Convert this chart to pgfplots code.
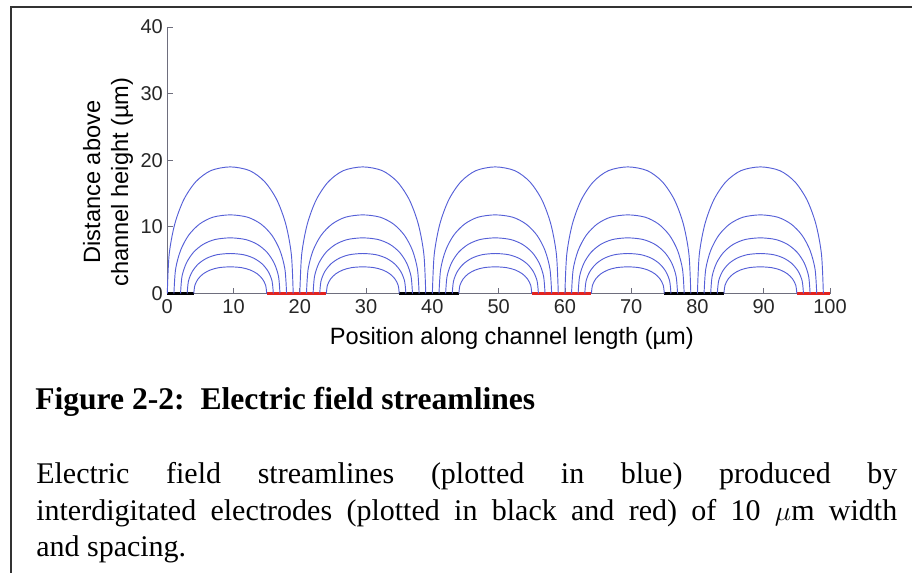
\documentclass[border=0pt]{standalone}
\usepackage{pgfplots}
\pgfplotsset{compat=1.18}
\usepackage{fontspec}
\setmainfont{Liberation Serif}
\newfontfamily\arial{Liberation Sans}

\definecolor{streamblue}{RGB}{85,95,215}
\definecolor{elecred}{RGB}{228,35,30}
\definecolor{axisgray}{RGB}{110,110,125}

\pgfplotsset{
  stream/.style={streamblue, line width=0.7pt, smooth, no marks},
  electrode/.style={line width=2.5pt, no marks},
}

\begin{document}
\begin{tikzpicture}
\begin{scope}[x=0.75pt,y=-0.75pt]
  \path[use as bounding box] (0,0) rectangle (912,573);
  % page frame (left and top rules)
  \draw[line width=1.5pt, black!80] (10.7,573) -- (10.7,7.3) -- (912,7.3);
\end{scope}

\begin{axis}[
  at={(125.475pt,-220.125pt)}, anchor=south west,
  scale only axis, width=497pt, height=199.9pt,
  xmin=0, xmax=100, ymin=0, ymax=40,
  axis lines*=left,
  axis line style={axisgray, line width=0.6pt},
  tick align=inside,
  major tick length=4.5pt,
  tick style={axisgray, line width=0.6pt},
  xtick={0,10,...,100}, ytick={0,10,...,40},
  /pgf/number format/assume math mode=true,
  tick label style={font=\arial\fontsize{15}{17}\selectfont, black!85},
  xticklabel style={inner sep=0pt, anchor=north, yshift=-4.6pt},
  yticklabel style={inner sep=0pt, anchor=east, xshift=-3.2pt},
  xlabel={Position along channel length (µm)},
  xlabel style={at={(axis description cs:0.52,-0.193)}, anchor=base,
    font=\arial\fontsize{17.7}{21}\selectfont},
  ylabel={Distance above\\channel height (µm)},
  ylabel style={at={(axis description cs:-0.0895,0.418)}, anchor=center,
    align=center, font=\arial\fontsize{17.7}{21}\selectfont},
  clip=false,
]
% electrodes along the channel floor
\addplot[electrode, black]   coordinates {(0,0) (4,0)};
\addplot[electrode, elecred] coordinates {(15,0) (24,0)};
\addplot[electrode, black]   coordinates {(35,0) (44,0)};
\addplot[electrode, elecred] coordinates {(55,0) (64,0)};
\addplot[electrode, black]   coordinates {(75,0) (84,0)};
\addplot[electrode, elecred] coordinates {(95,0) (100,0)};

% streamlines, gap 1
\addplot[stream] coordinates {(0,0) (0.28,5.86) (1.12,10.40) (2.47,14.05) (4.30,16.77) (6.57,18.44) (9.50,19.00) (12.43,18.44) (14.70,16.77) (16.53,14.05) (17.88,10.40) (18.72,5.86) (19,0)};
\addplot[stream] coordinates {(1,0) (1.25,3.64) (2.00,6.46) (3.21,8.73) (4.85,10.41) (6.88,11.45) (9.50,11.80) (12.12,11.45) (14.15,10.41) (15.79,8.73) (17.00,6.46) (17.75,3.64) (18,0)};
\addplot[stream] coordinates {(2,0) (2.22,2.58) (2.88,4.57) (3.95,6.18) (5.40,7.37) (7.19,8.10) (9.50,8.35) (11.81,8.10) (13.60,7.37) (15.05,6.18) (16.12,4.57) (16.78,2.58) (17,0)};
\addplot[stream] coordinates {(3,0) (3.19,1.85) (3.76,3.28) (4.69,4.44) (5.94,5.29) (7.50,5.82) (9.50,6.00) (11.50,5.82) (13.06,5.29) (14.31,4.44) (15.24,3.28) (15.81,1.85) (16,0)};
\addplot[stream] coordinates {(4,0) (4.16,1.23) (4.65,2.19) (5.43,2.96) (6.49,3.53) (7.80,3.88) (9.50,4.00) (11.20,3.88) (12.51,3.53) (13.57,2.96) (14.35,2.19) (14.84,1.23) (15,0)};

% streamlines, gap 2
\addplot[stream] coordinates {(20,0) (20.28,5.86) (21.12,10.40) (22.47,14.05) (24.30,16.77) (26.57,18.44) (29.50,19.00) (32.43,18.44) (34.70,16.77) (36.53,14.05) (37.88,10.40) (38.72,5.86) (39,0)};
\addplot[stream] coordinates {(21,0) (21.25,3.64) (22.00,6.46) (23.21,8.73) (24.85,10.41) (26.88,11.45) (29.50,11.80) (32.12,11.45) (34.15,10.41) (35.79,8.73) (37.00,6.46) (37.75,3.64) (38,0)};
\addplot[stream] coordinates {(22,0) (22.22,2.58) (22.88,4.57) (23.95,6.18) (25.40,7.37) (27.19,8.10) (29.50,8.35) (31.81,8.10) (33.60,7.37) (35.05,6.18) (36.12,4.57) (36.78,2.58) (37,0)};
\addplot[stream] coordinates {(23,0) (23.19,1.85) (23.76,3.28) (24.69,4.44) (25.94,5.29) (27.50,5.82) (29.50,6.00) (31.50,5.82) (33.06,5.29) (34.31,4.44) (35.24,3.28) (35.81,1.85) (36,0)};
\addplot[stream] coordinates {(24,0) (24.16,1.23) (24.65,2.19) (25.43,2.96) (26.49,3.53) (27.80,3.88) (29.50,4.00) (31.20,3.88) (32.51,3.53) (33.57,2.96) (34.35,2.19) (34.84,1.23) (35,0)};

% streamlines, gap 3
\addplot[stream] coordinates {(40,0) (40.28,5.86) (41.12,10.40) (42.47,14.05) (44.30,16.77) (46.57,18.44) (49.50,19.00) (52.43,18.44) (54.70,16.77) (56.53,14.05) (57.88,10.40) (58.72,5.86) (59,0)};
\addplot[stream] coordinates {(41,0) (41.25,3.64) (42.00,6.46) (43.21,8.73) (44.85,10.41) (46.88,11.45) (49.50,11.80) (52.12,11.45) (54.15,10.41) (55.79,8.73) (57.00,6.46) (57.75,3.64) (58,0)};
\addplot[stream] coordinates {(42,0) (42.22,2.58) (42.88,4.57) (43.95,6.18) (45.40,7.37) (47.19,8.10) (49.50,8.35) (51.81,8.10) (53.60,7.37) (55.05,6.18) (56.12,4.57) (56.78,2.58) (57,0)};
\addplot[stream] coordinates {(43,0) (43.19,1.85) (43.76,3.28) (44.69,4.44) (45.94,5.29) (47.50,5.82) (49.50,6.00) (51.50,5.82) (53.06,5.29) (54.31,4.44) (55.24,3.28) (55.81,1.85) (56,0)};
\addplot[stream] coordinates {(44,0) (44.16,1.23) (44.65,2.19) (45.43,2.96) (46.49,3.53) (47.80,3.88) (49.50,4.00) (51.20,3.88) (52.51,3.53) (53.57,2.96) (54.35,2.19) (54.84,1.23) (55,0)};

% streamlines, gap 4
\addplot[stream] coordinates {(60,0) (60.28,5.86) (61.12,10.40) (62.47,14.05) (64.30,16.77) (66.57,18.44) (69.50,19.00) (72.43,18.44) (74.70,16.77) (76.53,14.05) (77.88,10.40) (78.72,5.86) (79,0)};
\addplot[stream] coordinates {(61,0) (61.25,3.64) (62.00,6.46) (63.21,8.73) (64.85,10.41) (66.88,11.45) (69.50,11.80) (72.12,11.45) (74.15,10.41) (75.79,8.73) (77.00,6.46) (77.75,3.64) (78,0)};
\addplot[stream] coordinates {(62,0) (62.22,2.58) (62.88,4.57) (63.95,6.18) (65.40,7.37) (67.19,8.10) (69.50,8.35) (71.81,8.10) (73.60,7.37) (75.05,6.18) (76.12,4.57) (76.78,2.58) (77,0)};
\addplot[stream] coordinates {(63,0) (63.19,1.85) (63.76,3.28) (64.69,4.44) (65.94,5.29) (67.50,5.82) (69.50,6.00) (71.50,5.82) (73.06,5.29) (74.31,4.44) (75.24,3.28) (75.81,1.85) (76,0)};
\addplot[stream] coordinates {(64,0) (64.16,1.23) (64.65,2.19) (65.43,2.96) (66.49,3.53) (67.80,3.88) (69.50,4.00) (71.20,3.88) (72.51,3.53) (73.57,2.96) (74.35,2.19) (74.84,1.23) (75,0)};

% streamlines, gap 5
\addplot[stream] coordinates {(80,0) (80.28,5.86) (81.12,10.40) (82.47,14.05) (84.30,16.77) (86.57,18.44) (89.50,19.00) (92.43,18.44) (94.70,16.77) (96.53,14.05) (97.88,10.40) (98.72,5.86) (99,0)};
\addplot[stream] coordinates {(81,0) (81.25,3.64) (82.00,6.46) (83.21,8.73) (84.85,10.41) (86.88,11.45) (89.50,11.80) (92.12,11.45) (94.15,10.41) (95.79,8.73) (97.00,6.46) (97.75,3.64) (98,0)};
\addplot[stream] coordinates {(82,0) (82.22,2.58) (82.88,4.57) (83.95,6.18) (85.40,7.37) (87.19,8.10) (89.50,8.35) (91.81,8.10) (93.60,7.37) (95.05,6.18) (96.12,4.57) (96.78,2.58) (97,0)};
\addplot[stream] coordinates {(83,0) (83.19,1.85) (83.76,3.28) (84.69,4.44) (85.94,5.29) (87.50,5.82) (89.50,6.00) (91.50,5.82) (93.06,5.29) (94.31,4.44) (95.24,3.28) (95.81,1.85) (96,0)};
\addplot[stream] coordinates {(84,0) (84.16,1.23) (84.65,2.19) (85.43,2.96) (86.49,3.53) (87.80,3.88) (89.50,4.00) (91.20,3.88) (92.51,3.53) (93.57,2.96) (94.35,2.19) (94.84,1.23) (95,0)};
\end{axis}

\begin{scope}[x=0.75pt,y=-0.75pt]
  \node[anchor=base west, inner sep=0pt,
        font=\bfseries\fontsize{23.7}{28}\selectfont]
    at (35,409) {Figure 2-2:\ \ Electric field streamlines};
  \node[anchor=north west, inner sep=0pt, text width=645.75pt, align=justify,
        font=\fontsize{22.5}{27.6}\selectfont]
    at (36,462) {Electric field streamlines (plotted in blue) produced by\linebreak
      interdigitated electrodes (plotted in black and red) of 10~$\mu$m width\linebreak
      and spacing.};
\end{scope}
\end{tikzpicture}
\end{document}
